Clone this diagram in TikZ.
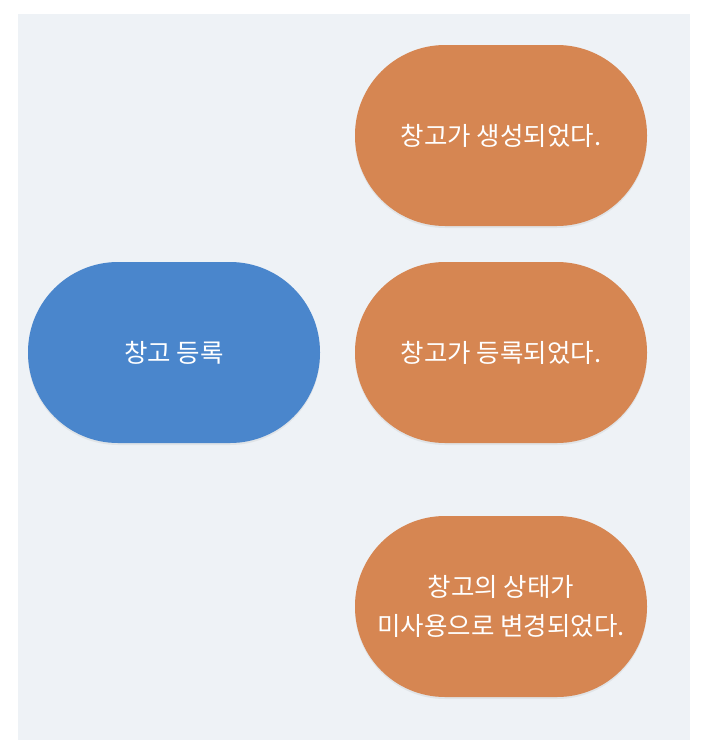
\documentclass[tikz,border=0pt]{standalone}
\usepackage{fontspec}
\newfontfamily\kr{Noto Sans CJK KR}
\usetikzlibrary{shadows}
\definecolor{panel}{HTML}{EEF2F6}
\definecolor{evorange}{HTML}{D68652}
\definecolor{cmdblue}{HTML}{4A86CC}
\tikzset{
  sticky/.style={rectangle, rounded corners=90pt, minimum width=292pt, minimum height=181pt,
    inner sep=0pt, text=white, align=center, font=\kr\fontsize{25.5}{39}\selectfont,
    drop shadow={shadow xshift=0pt, shadow yshift=-2pt, opacity=0.12}},
  event/.style={sticky, fill=evorange},
  command/.style={sticky, fill=cmdblue}
}
\begin{document}
\begin{tikzpicture}[x=1pt,y=-1pt]
\useasboundingbox (0,0) rectangle (704,750);
\fill[panel] (18,14) rectangle (690,740);
\node[command] (cmd) at (174,352.5) {창고 등록};
\node[event] (e1) at (501,135.5) {창고가 생성되었다.};
\node[event] (e2) at (501,352.5) {창고가 등록되었다.};
\node[event] (e3) at (501,606.5) {창고의 상태가\\미사용으로 변경되었다.};
\end{tikzpicture}
\end{document}
